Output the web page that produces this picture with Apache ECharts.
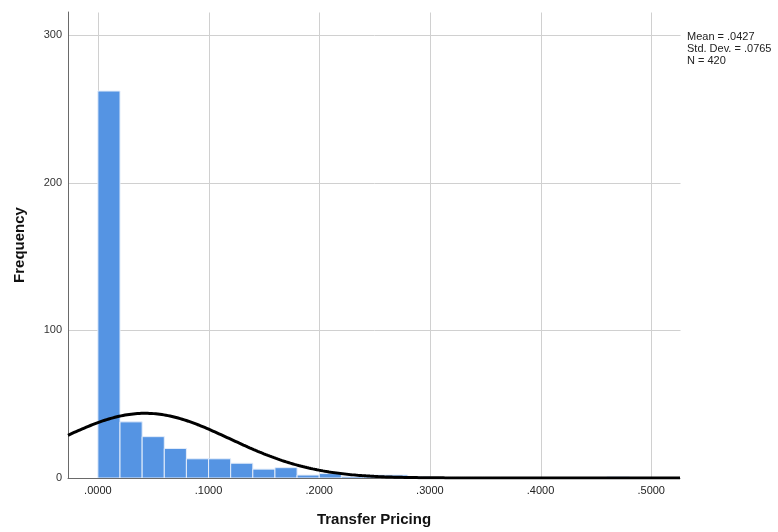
<!DOCTYPE html>
<html>
<head>
<meta charset="utf-8">
<script src="https://cdn.jsdelivr.net/npm/echarts@6/dist/echarts.min.js"></script>
<style>
  html, body { margin: 0; padding: 0; background: #ffffff; }
  #chart { width: 778px; height: 532px; }
</style>
</head>
<body>
<div id="chart"></div>
<script>
// Histogram bins (left edge of each bin) and their frequencies
const binLefts = [0.00, 0.02, 0.04, 0.06, 0.08, 0.10, 0.12, 0.14, 0.16, 0.18, 0.20, 0.22, 0.24, 0.26, 0.28, 0.46];
const counts   = [262,  38,   28,   20,   13,   13,   10,   6,    7,    2,    3,    1,    2,    2,    1,    1];
const binWidth = 0.02;

// Axis ticks used for the grid lines
const xTicks = [0, 0.1, 0.2, 0.3, 0.4, 0.5];
const yTicks = [100, 200, 300];

// Summary statistics shown beside the chart
const meanValue = 0.0427;
const sdValue = 0.0765;
const nValue = 420;
const statLines = ['Mean = .0427', 'Std. Dev. = .0765', 'N = 420'];

const xMin = -0.027, xMax = 0.526;
const yMin = 0, yMax = 315.5;

// Fitted normal curve scaled to histogram counts
const curve = [];
const steps = 300;
for (let i = 0; i <= steps; i++) {
  const x = xMin + (xMax - xMin) * i / steps;
  const z = (x - meanValue) / sdValue;
  const y = nValue * binWidth / (sdValue * Math.sqrt(2 * Math.PI)) * Math.exp(-0.5 * z * z);
  curve.push([x, y]);
}

const barData = binLefts.map((b, i) => [b, counts[i]]);
// grid line entries: [orientation (0 = vertical, 1 = horizontal), value]
const gridData = xTicks.map(v => [0, v]).concat(yTicks.map(v => [1, v]));
const font = 'Liberation Sans, Arial, sans-serif';

const chart = echarts.init(document.getElementById('chart'), null, { renderer: 'canvas' });
chart.setOption({
  animation: false,
  backgroundColor: '#ffffff',
  grid: { left: 68, right: 98, top: 12, bottom: 54, containLabel: false },
  xAxis: {
    type: 'value',
    min: xMin,
    max: xMax,
    splitNumber: 5,
    z: 5,
    axisLine: { show: true, onZero: false, lineStyle: { color: '#6a6a6a', width: 1 } },
    axisTick: { show: false },
    splitLine: { show: false },
    axisLabel: {
      margin: 7,
      color: '#222222',
      fontFamily: font,
      fontSize: 11,
      showMinLabel: true,
      showMaxLabel: true,
      formatter: function (v) {
        const k = v * 10;
        if (v < -1e-9 || Math.abs(k - Math.round(k)) > 1e-6) return '';
        return '.' + v.toFixed(4).split('.')[1];
      }
    },
    name: 'Transfer Pricing',
    nameLocation: 'middle',
    nameGap: 34,
    nameTextStyle: { color: '#111111', fontFamily: font, fontSize: 15, fontWeight: 'bold' }
  },
  yAxis: {
    type: 'value',
    min: yMin,
    max: yMax,
    interval: 100,
    z: 5,
    axisLine: { show: true, onZero: false, lineStyle: { color: '#6a6a6a', width: 1 } },
    axisTick: { show: false },
    splitLine: { show: false },
    axisLabel: {
      margin: 6,
      color: '#333333',
      fontFamily: font,
      fontSize: 11,
      formatter: function (v) { return (v % 100 === 0) ? String(v) : ''; }
    },
    name: 'Frequency',
    nameLocation: 'middle',
    nameGap: 41,
    nameTextStyle: { color: '#111111', fontFamily: font, fontSize: 15, fontWeight: 'bold' }
  },
  graphic: [{
    type: 'text',
    left: 687,
    top: 31,
    style: {
      text: statLines.join('\n'),
      fill: '#222222',
      font: '11px ' + font,
      lineHeight: 12
    }
  }],
  series: [
    {
      // grid lines behind the bars
      type: 'custom',
      z: 1,
      silent: true,
      data: gridData,
      encode: { x: 1 },
      renderItem: function (params, api) {
        const dir = api.value(0);
        const v = api.value(1);
        let a, b;
        if (dir === 0) { a = api.coord([v, yMin]); b = api.coord([v, yMax]); }
        else { a = api.coord([xMin, v]); b = api.coord([xMax, v]); }
        return {
          type: 'line',
          shape: { x1: Math.round(a[0]) + 0.5, y1: Math.round(a[1]) + 0.5, x2: Math.round(b[0]) + 0.5, y2: Math.round(b[1]) + 0.5 },
          style: { stroke: '#d0d0d0', lineWidth: 1 }
        };
      }
    },
    {
      type: 'custom',
      z: 2,
      data: barData,
      encode: { x: 0, y: 1 },
      renderItem: function (params, api) {
        const x0 = api.value(0);
        const c = api.value(1);
        const p0 = api.coord([x0, c]);
        const p1 = api.coord([x0 + binWidth, 0]);
        return {
          type: 'rect',
          shape: { x: p0[0], y: p0[1], width: p1[0] - p0[0], height: p1[1] - p0[1] },
          style: { fill: '#5594e3', stroke: '#e4edfa', lineWidth: 1 }
        };
      }
    },
    {
      type: 'line',
      z: 10,
      data: curve,
      showSymbol: false,
      smooth: false,
      silent: true,
      clip: true,
      lineStyle: { color: '#000000', width: 3 }
    }
  ]
});
</script>
</body>
</html>
